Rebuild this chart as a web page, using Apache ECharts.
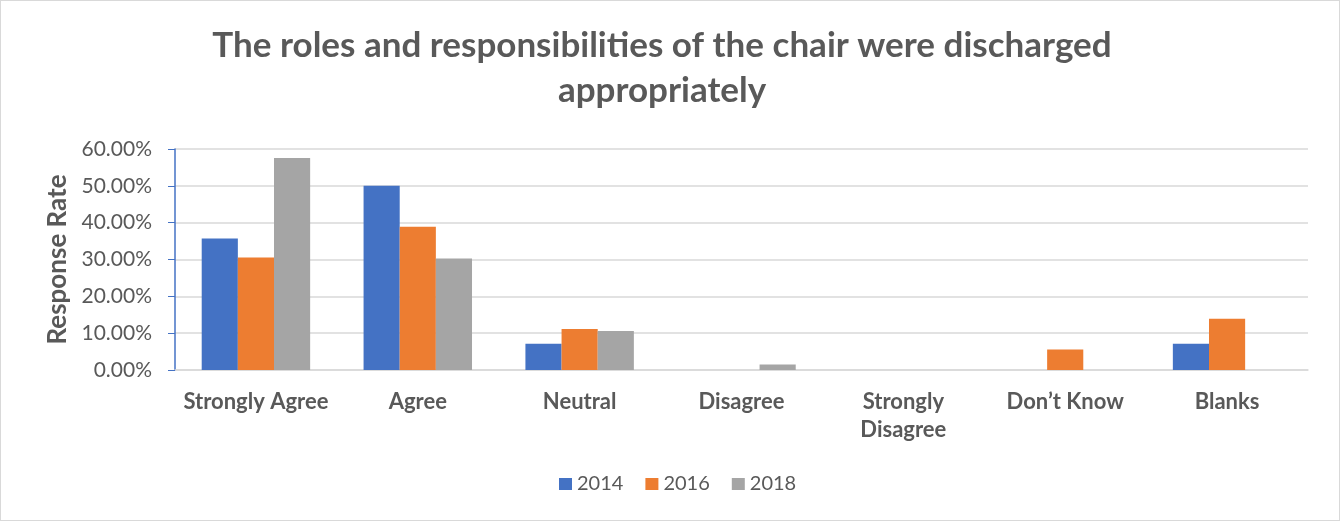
<!DOCTYPE html>
<html><head><meta charset="utf-8">
<script src="https://cdn.jsdelivr.net/npm/echarts@6/dist/echarts.min.js"></script>
<style>html,body{margin:0;padding:0;background:#fff}
#c{width:1338px;height:519px;border:1px solid #d9d9d9}</style>
</head><body><div id="c"></div>
<script>
const categories = ['Strongly Agree','Agree','Neutral','Disagree','Strongly\nDisagree','Don\u2019t Know','Blanks'];
const s2014 = [5/14, 7/14, 1/14, 0, 0, 0, 1/14].map(v=>v*100);
const s2016 = [11/36, 14/36, 4/36, 0, 0, 2/36, 5/36].map(v=>v*100);
const s2018 = [38/66, 20/66, 7/66, 1/66, 0, 0, 0].map(v=>v*100);
const yTicks = [0,10,20,30,40,50,60];
const FONT = 'Lato';
const txt = '#595959';
const chart = echarts.init(document.getElementById('c'));
chart.setOption({
  animation:false,
  title:{text:'The roles and responsibilities of the chair were discharged\nappropriately',
    left:656, top:17, textAlign:'center',
    textStyle:{fontFamily:FONT,fontSize:35,fontWeight:'bold',color:txt,lineHeight:45}},
  legend:{top:468,left:553,itemWidth:13,itemHeight:12,itemGap:22,icon:'rect',
    textStyle:{fontFamily:FONT,fontSize:20,color:txt}},
  grid:{left:174,right:31,top:148,bottom:150},
  xAxis:{type:'category',data:categories,
    axisLine:{lineStyle:{color:'#d9d9d9',width:1.5}},axisTick:{show:false},
    axisLabel:{fontFamily:FONT,fontSize:22,fontWeight:'bold',color:txt,margin:18,lineHeight:28,interval:0}},
  yAxis:{type:'value',min:yTicks[0],max:yTicks[yTicks.length-1],interval:10,
    name:'Response Rate',nameLocation:'middle',nameGap:104,
    nameTextStyle:{fontFamily:FONT,fontSize:26,fontWeight:'bold',color:txt},
    axisLine:{show:true,lineStyle:{color:'#4472c4',width:1.5}},
    axisTick:{show:true,length:7,lineStyle:{color:'#4472c4'}},
    axisLabel:{fontFamily:FONT,fontSize:21,color:txt,margin:23,formatter:v=>v.toFixed(2)+'%'},
    splitLine:{lineStyle:{color:'#d9d9d9',width:1.5}}},
  series:[
    {name:'2014',type:'bar',data:s2014,barGap:'0%',barCategoryGap:'33%',itemStyle:{color:'#4472c4'}},
    {name:'2016',type:'bar',data:s2016,itemStyle:{color:'#ed7d31'}},
    {name:'2018',type:'bar',data:s2018,itemStyle:{color:'#a5a5a5'}}
  ]
});
</script></body></html>
